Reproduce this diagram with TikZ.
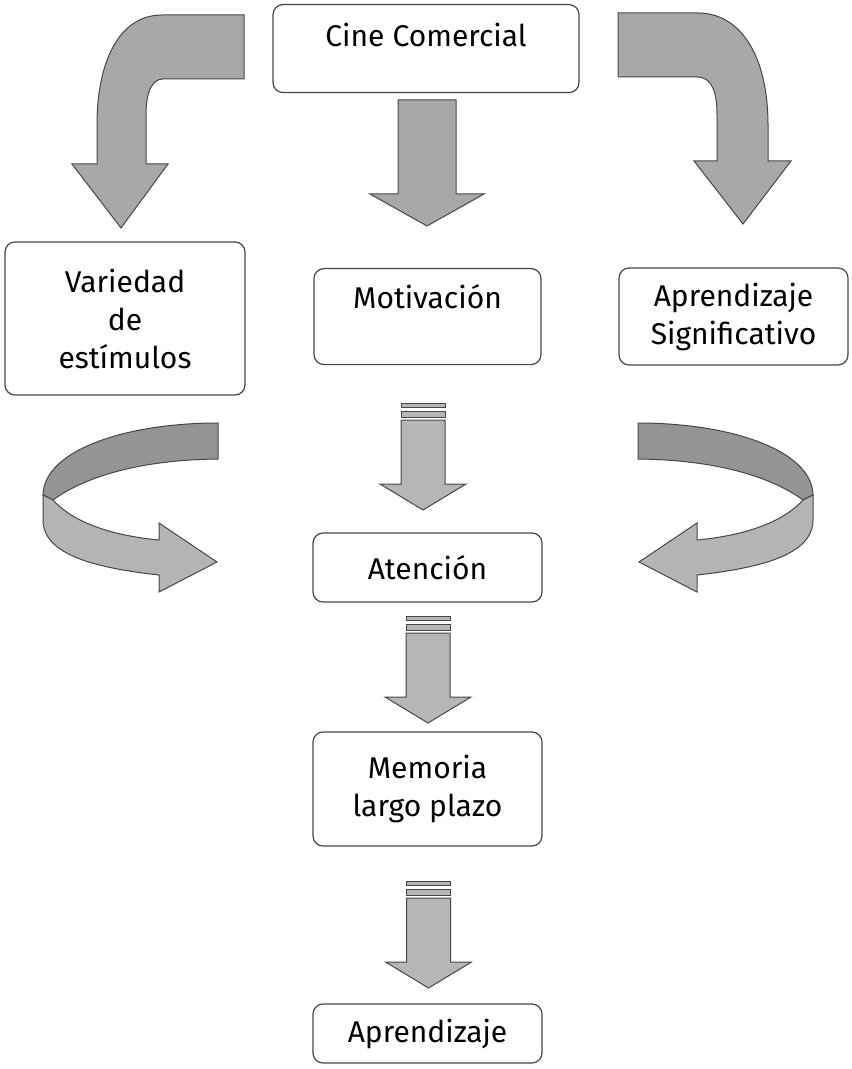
\documentclass[tikz,border=0pt]{standalone}
\usepackage{fontspec}
\setmainfont{Fira Sans}
\usetikzlibrary{positioning}

\definecolor{framegray}{RGB}{70,70,70}
\definecolor{arrowgray}{RGB}{168,168,168}
\definecolor{bandback}{RGB}{148,148,148}
\definecolor{bandfront}{RGB}{180,180,180}
\definecolor{stripegray}{RGB}{182,182,182}

\tikzset{
  box/.style={draw=framegray, line width=0.6pt, rounded corners=5pt, fill=white,
    align=center, inner sep=0pt, font=\fontsize{15}{19}\selectfont},
  blockarrow/.style={draw=framegray, line width=0.5pt, fill=arrowgray, line join=miter},
}

% striped down arrow: centre x, top y (px)
\newcommand{\stripedarrow}[2]{%
  \begin{scope}[shift={(#1,#2)}]
    \draw[blockarrow, fill=stripegray] (-22,0) rectangle (22,4);
    \draw[blockarrow, fill=stripegray] (-22,8) rectangle (22,14);
    \draw[blockarrow, fill=stripegray] (-22,17) -- (-22,81) -- (-43,81) -- (0,107)
      -- (43,81) -- (22,81) -- (22,17) -- cycle;
  \end{scope}}

% twisted u-turn ribbon (right hand one)
\newcommand{\uturnarrow}{%
  \draw[blockarrow, fill=bandback] (638,423) .. controls (730,423) and (812,450) .. (813,495)
    -- (803,500) .. controls (780,483) and (730,460) .. (638,459) -- cycle;
  \draw[blockarrow, fill=bandfront] (813,495) -- (813,520) .. controls (813,555) and (760,568) .. (697,575)
    -- (697,592) -- (639,562) -- (697,523) -- (697,540)
    .. controls (750,535) and (785,520) .. (803,500) -- cycle;}

\begin{document}
\begin{tikzpicture}[x=0.5pt, y=-0.5pt]
  \useasboundingbox (0,0) rectangle (851,1069);

  % boxes
  \node[box, anchor=north, minimum width=153pt, text height=21pt, text depth=23pt]
    (cine) at (426,4) {Cine Comercial};
  \node[box, minimum width=120pt, minimum height=76.5pt] (var) at (125,318.5)
    {Variedad\\de\\estímulos};
  \node[box, anchor=north, minimum width=113.5pt, text height=20pt, text depth=28pt]
    (mot) at (427.5,268) {Motivación};
  \node[box, minimum width=114.5pt, minimum height=48.5pt] (sig) at (733.5,316.5)
    {Aprendizaje\\Significativo};
  \node[box, minimum width=114.5pt, minimum height=34.5pt] (ate) at (427.5,567.5) {Atención};
  \node[box, minimum width=114.5pt, minimum height=57pt] (mem) at (427.5,789)
    {Memoria\\largo plazo};
  \node[box, minimum width=114.5pt, minimum height=29.5pt] (apr) at (427.5,1033.5) {Aprendizaje};

  % arrows from the top box
  \draw[blockarrow] (244,15) -- (162,15) .. controls (120,15) and (97,60) .. (97,125)
    -- (97,164) -- (72,164) -- (121,228) -- (168,164) -- (146,164) -- (146,115)
    .. controls (146,92) and (152,79) .. (163,79) -- (244,79) -- cycle;
  \draw[blockarrow] (398,100) -- (398,194) -- (370,194) -- (427,226) -- (484,194)
    -- (456,194) -- (456,100) -- cycle;
  \draw[blockarrow] (618,13) -- (698,13) .. controls (740,13) and (768,55) .. (768,125)
    -- (768,161) -- (791,161) -- (743,224) -- (694,161) -- (717,161) -- (717,115)
    .. controls (717,92) and (712,77) .. (697,77) -- (618,77) -- cycle;

  % u-turns into Atencion
  \uturnarrow
  \begin{scope}[xshift=428pt, xscale=-1]
    \uturnarrow
  \end{scope}

  % down the middle
  \stripedarrow{423}{403}
  \stripedarrow{428}{616}
  \stripedarrow{428.5}{881}
\end{tikzpicture}
\end{document}
